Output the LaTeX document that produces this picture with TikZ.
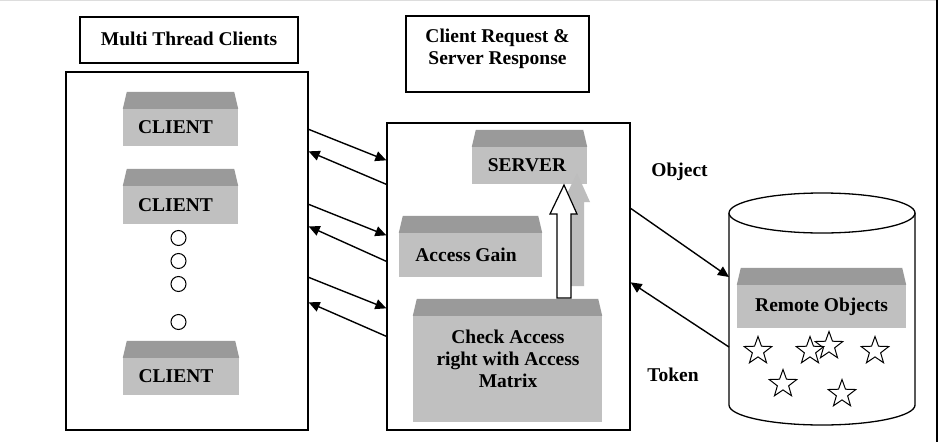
\documentclass[tikz,border=0pt]{standalone}
\usepackage{fontspec}
\setmainfont{Liberation Serif}
\usetikzlibrary{shapes.geometric,arrows.meta,calc}
\definecolor{roofc}{HTML}{9A9A9A}
\definecolor{frontc}{HTML}{C0C0C0}
\definecolor{shadowc}{HTML}{BDBDBD}
\definecolor{topline}{HTML}{DDDDDD}
\tikzset{
  txt/.style={font=\fontsize{19.5}{22}\selectfont\bfseries, align=center, inner sep=0pt},
  frame/.style={draw, line width=1.3pt, inner sep=0pt, fill=white},
  front/.style={fill=frontc, inner sep=0pt, font=\fontsize{19.5}{22}\selectfont\bfseries, align=center},
  arr/.style={line width=1.4pt, -{Triangle[length=11pt,width=10pt]}},
  dot/.style={circle, draw, line width=1pt, minimum size=15pt, inner sep=0pt},
  starshape/.style={star, star points=5, star point ratio=2.45, draw, line width=1pt, minimum size=29pt, inner sep=0pt},
}
\newcommand\roofon[1]{\fill[roofc] (#1.north west) -- ([xshift=4pt,yshift=17pt]#1.north west) -- ([xshift=-4pt,yshift=17pt]#1.north east) -- (#1.north east) -- cycle;}
\begin{document}
\begin{tikzpicture}[x=1pt,y=-1pt]
\useasboundingbox (0,0) rectangle (942,442);
% page frame
\draw[topline, line width=1pt] (0,0.5) -- (937,0.5);
\draw[line width=1.3pt] (937,0) -- (937,442);

% headers
\node[frame, minimum width=218pt, minimum height=46pt] (h1) at (189,40) {};
\node[txt] (h1t) at (189,39) {Multi Thread Clients};
\node[frame, minimum width=183pt, minimum height=76pt] (h2) at (497.5,54) {};
\node[txt] (h2t) at (497.5,48.5) {Client Request \&\\Server Response};

% big boxes
\node[frame, minimum width=242pt, minimum height=358pt] (lbox) at (187,251) {};
\node[frame, minimum width=243pt, minimum height=307pt] (mbox) at (508.5,276.5) {};

% clients
\node[front, minimum width=115pt, minimum height=37pt] (c1) at (180.5,127.5) {\hspace*{-10pt}CLIENT};
\roofon{c1}
\node[front, minimum width=115pt, minimum height=38pt] (c2) at (180.5,205) {\hspace*{-10pt}CLIENT};
\roofon{c2}
\node[front, minimum width=116pt, minimum height=37pt] (c3) at (181,376.5) {\hspace*{-10pt}CLIENT};
\roofon{c3}
\node[dot] (d1) at (178.5,238) {};
\node[dot] (d2) at (178.5,261) {};
\node[dot] (d3) at (178.5,284) {};
\node[dot] (d4) at (178.5,322) {};

% middle boxes
\node[front, minimum width=115pt, minimum height=37pt] (srv) at (529.5,165.5) {\hspace*{-5pt}SERVER};
\roofon{srv}
\node[front, minimum width=143pt, minimum height=44pt] (acc) at (470.5,255) {\hspace*{-9pt}Access Gain};
\roofon{acc}
\node[front, minimum width=189pt, minimum height=106pt] (chk) at (507.5,369) {};
\roofon{chk}
\node[txt] (chkt) at (508,359) {Check Access\\right with Access\\Matrix};

% hollow arrow with shadow
\fill[shadowc] (570,286) -- (570,202) -- (563,202) -- (577,173) -- (590,202) -- (584,202) -- (584,286) -- cycle;
\draw[line width=1.2pt, fill=white] (557,298) -- (557,214) -- (550,214) -- (564,185) -- (577,214) -- (571,214) -- (571,298) -- cycle;

% client/server arrows
\draw[arr] ([yshift=-58pt]lbox.north east) -- ([yshift=-38pt]mbox.north west);
\draw[arr] ([yshift=-62pt]mbox.north west) -- ([yshift=-80pt]lbox.north east);
\draw[arr] ([yshift=-133pt]lbox.north east) -- ([yshift=-113pt]mbox.north west);
\draw[arr] ([yshift=-139pt]mbox.north west) -- ([yshift=-155pt]lbox.north east);
\draw[arr] ([yshift=-206pt]lbox.north east) -- ([yshift=-186pt]mbox.north west);
\draw[arr] ([yshift=-214pt]mbox.north west) -- ([yshift=-231pt]lbox.north east);

% cylinder
\fill[white] (729,213) -- (729,405) arc[start angle=180, end angle=0, x radius=93, y radius=20] -- (915,213) -- cycle;
\draw[line width=1.3pt] (729,213) -- (729,405) arc[start angle=180, end angle=0, x radius=93, y radius=20] -- (915,213);
\draw[line width=1.3pt, fill=white] (822,213) ellipse[x radius=93, y radius=20];
\coordinate (cylA) at (729,277);
\coordinate (cylB) at (729,347);

\node[front, minimum width=169pt, minimum height=43pt] (rem) at (821.5,306.5) {Remote Objects};
\roofon{rem}

\node[starshape] (s1) at (758,351) {};
\node[starshape] (s2) at (810,351) {};
\node[starshape] (s3) at (829,346) {};
\node[starshape] (s4) at (875,351) {};
\node[starshape] (s5) at (783,384) {};
\node[starshape] (s6) at (842,394) {};

% object / token
\draw[arr] ([yshift=-86pt]mbox.north east) -- (cylA);
\draw[arr] (cylB) -- ([yshift=-160pt]mbox.north east);
\node[txt] (obj) at (679.5,172) {Object};
\node[txt] (tok) at (673,375) {Token};
\end{tikzpicture}
\end{document}
